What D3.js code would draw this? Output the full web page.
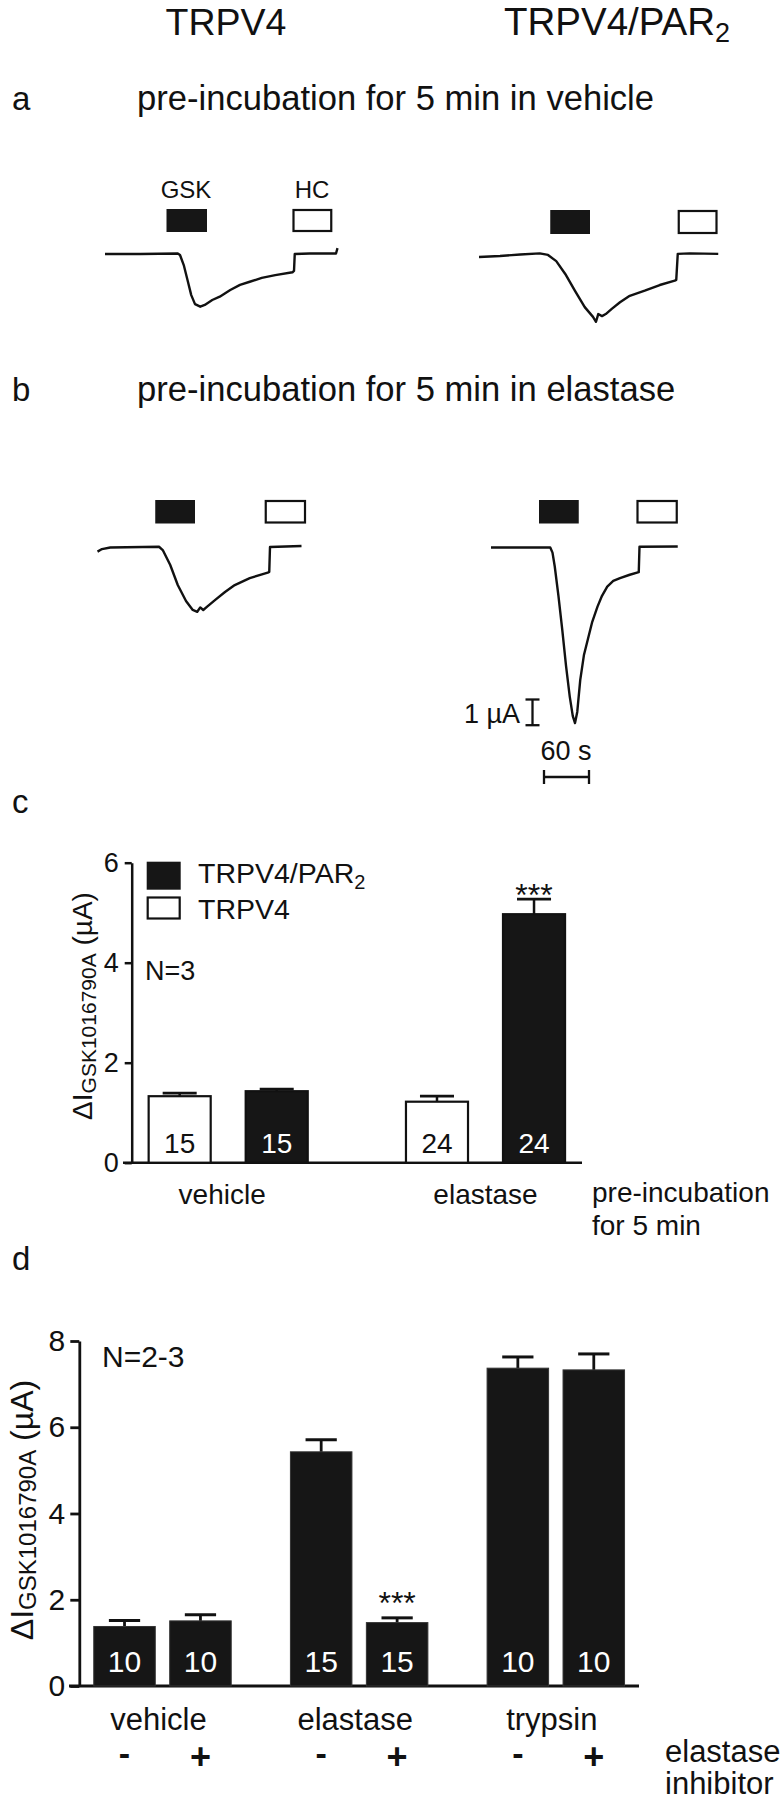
<!DOCTYPE html>
<html><head><meta charset="utf-8">
<script src="https://cdn.jsdelivr.net/npm/d3@7"></script>
<style>
body{margin:0;background:#fff;}
svg{display:block;font-family:"Liberation Sans",Arial,Helvetica,sans-serif;}
</style></head><body>
<svg id="fig" width="783" height="1800"></svg>
<script>
// ---------- DATA ----------
// Current traces: [time (s), current (µA)]
const traceA_TRPV4 = [[0,0],[47,0],[97,0.02],[100,-0.04],[105,-0.43],[110,-1.01],[115,-1.6],[120,-1.95],[127,-2.05],[133,-1.98],[143,-1.79],[153,-1.66],[167,-1.4],[180,-1.2],[193,-1.08],[209,-0.93],[227,-0.82],[250,-0.71],[252,-0.66],[253,0],[273,0.02],[308,0.02],[310,0.23]];
const traceA_PAR2 = [[0,0],[28,0.04],[55,0.1],[81,0.14],[92,0.08],[103,-0.16],[115,-0.66],[128,-1.32],[141,-1.95],[152,-2.33],[156,-2.52],[159,-2.22],[164,-2.3],[169,-2.22],[177,-2.02],[188,-1.76],[201,-1.51],[221,-1.31],[241,-1.09],[261,-0.92],[263,-0.89],[265,0.12],[281,0.14],[319,0.12]];
const traceB_TRPV4 = [[0,-0.18],[6,-0.08],[17,-0.02],[82,0.01],[87,-0.12],[97,-0.7],[107,-1.48],[118,-2.1],[127,-2.45],[133,-2.52],[137,-2.35],[141,-2.45],[147,-2.3],[157,-2.06],[170,-1.75],[183,-1.48],[203,-1.21],[227,-1.0],[229,-0.97],[230,0],[272,0.04]];
const traceB_PAR2 = [[0,0],[79,0],[82,-0.2],[85,-0.74],[90,-1.9],[95,-3.2],[100,-4.6],[105,-5.8],[109,-6.55],[112,-6.83],[115,-6.4],[119,-5.15],[124,-4.17],[129,-3.59],[135,-2.89],[142,-2.3],[148,-1.88],[155,-1.52],[163,-1.3],[172,-1.19],[185,-1.06],[197,-0.96],[198,0.03],[249,0.04]];
// Application periods [start, end] (s)
const gskA_TRPV4 = [82,136], hcA_TRPV4 = [250,303];
const gskA_PAR2 = [95,148], hcA_PAR2 = [265,318];
const gskB_TRPV4 = [77,130], hcB_TRPV4 = [223,278];
const gskB_PAR2 = [64,117], hcB_PAR2 = [194,249];
const scaleBarCurrent = 1;   // µA
const scaleBarTime = 60;     // s

// Panel c
const cGroups = ["vehicle","elastase"];
const cSeries = ["TRPV4","TRPV4/PAR2"];
const cTRPV4Mean = [1.33, 1.22];
const cTRPV4SEM = [0.06, 0.11];
const cPAR2Mean = [1.43, 4.97];
const cPAR2SEM = [0.04, 0.30];
const cN = [15, 24];
const cTicks = [0,2,4,6];

// Panel d
const dGroups = ["vehicle","elastase","trypsin"];
const dInhibitor = ["-","+"];
const dMeanNoInh = [1.38, 5.43, 7.37];
const dSEMNoInh = [0.14, 0.28, 0.26];
const dMeanInh = [1.51, 1.47, 7.33];
const dSEMInh = [0.14, 0.11, 0.37];
const dN = [10, 15, 10];
const dTicks = [0,2,4,6,8];

// ---------- DRAW ----------
const svg = d3.select("#fig");
const INK = "#161616";
function txt(x, y, s, size, opts = {}) {
  const t = svg.append("text").attr("x", x).attr("y", y)
    .attr("font-size", size).attr("fill", opts.fill || "#111")
    .attr("text-anchor", opts.anchor || "start");
  if (opts.weight) t.attr("font-weight", opts.weight);
  t.text(s);
  return t;
}

// Titles
txt(226, 35, "TRPV4", 37.5, {anchor:"middle"});
const t2 = txt(504, 35, "TRPV4/PAR", 38.5);
t2.append("tspan").attr("dy", 7).attr("font-size", 27).text("2");

txt(12, 110, "a", 33);
txt(137, 110, "pre-incubation for 5 min in vehicle", 34.6);
txt(12, 401, "b", 33);
txt(137, 401, "pre-incubation for 5 min in elastase", 34.6);
txt(186, 198, "GSK", 24, {anchor:"middle"});
txt(312, 198, "HC", 24, {anchor:"middle"});

// Traces
const pxPerSec = 45/60, pxPerUA = 25.7;
function drawTrace(data, x0, y0, gsk, hc, rectTop, rectH) {
  const x = d3.scaleLinear().domain([0, 60]).range([x0, x0 + 60*pxPerSec]);
  const y = d3.scaleLinear().domain([0, 1]).range([y0, y0 - pxPerUA]);
  svg.append("path").datum(data)
    .attr("d", d3.line().x(d => x(d[0])).y(d => y(d[1])))
    .attr("fill","none").attr("stroke","#111").attr("stroke-width",2.4)
    .attr("stroke-linejoin","round");
  svg.append("rect").attr("x", x(gsk[0])).attr("width", x(gsk[1]) - x(gsk[0]))
    .attr("y", rectTop).attr("height", rectH).attr("fill", INK);
  svg.append("rect").attr("x", x(hc[0]) + 1).attr("width", x(hc[1]) - x(hc[0]) - 2)
    .attr("y", rectTop + 1).attr("height", rectH - 2).attr("fill", "#fff")
    .attr("stroke","#111").attr("stroke-width",2.2);
  return {x, y};
}
drawTrace(traceA_TRPV4, 105, 254, gskA_TRPV4, hcA_TRPV4, 209, 23);
drawTrace(traceA_PAR2, 479, 257, gskA_PAR2, hcA_PAR2, 210, 24);
drawTrace(traceB_TRPV4, 97.5, 547, gskB_TRPV4, hcB_TRPV4, 500, 23.5);
const bp = drawTrace(traceB_PAR2, 491, 547.5, gskB_PAR2, hcB_PAR2, 500, 23.5);

// scale bars
{
  const vLen = bp.y(0) - bp.y(scaleBarCurrent);
  const hLen = bp.x(scaleBarTime) - bp.x(0);
  const vx = 532.5, vy = 699.5;
  const g = svg.append("g").attr("stroke","#111").attr("stroke-width",2.3);
  g.append("line").attr("x1",vx).attr("x2",vx).attr("y1",vy).attr("y2",vy+vLen);
  g.append("line").attr("x1",vx-7).attr("x2",vx+7).attr("y1",vy).attr("y2",vy);
  g.append("line").attr("x1",vx-7).attr("x2",vx+7).attr("y1",vy+vLen).attr("y2",vy+vLen);
  const hx = 544, hy = 777;
  g.append("line").attr("x1",hx).attr("x2",hx+hLen).attr("y1",hy).attr("y2",hy);
  g.append("line").attr("x1",hx).attr("x2",hx).attr("y1",hy-7).attr("y2",hy+7);
  g.append("line").attr("x1",hx+hLen).attr("x2",hx+hLen).attr("y1",hy-7).attr("y2",hy+7);
  txt(520, 723, scaleBarCurrent + " \u00B5A", 27, {anchor:"end"});
  txt(566, 760, scaleBarTime + " s", 27, {anchor:"middle"});
}

// ---------- Panel c ----------
txt(12, 813, "c", 33);
{
  const y = d3.scaleLinear().domain([0, 6]).range([1162.7, 862.7]);
  const xg = d3.scaleBand().domain(cGroups).range([131.7, 582]).paddingInner(0.374).paddingOuter(0.062);
  const xs = d3.scaleBand().domain(cSeries).range([0, xg.bandwidth()]).paddingInner(0.34);
  const ax = svg.append("g").attr("transform","translate(131.7,0)")
    .call(d3.axisLeft(y).tickValues(cTicks).tickSize(7).tickSizeOuter(0).tickPadding(6).tickFormat(d3.format("d")));
  ax.select(".domain").attr("stroke","#111").attr("stroke-width",2.5);
  ax.selectAll(".tick line").attr("stroke","#111").attr("stroke-width",2.5);
  ax.selectAll(".tick text").attr("font-size",27).attr("fill","#111").attr("font-family",null);
  svg.append("line").attr("x1",123).attr("x2",xg.range()[1]).attr("y1",y(0)).attr("y2",y(0))
    .attr("stroke","#111").attr("stroke-width",2.5);
  const series = [
    {name:"TRPV4", mean:cTRPV4Mean, sem:cTRPV4SEM, fill:"#fff", label:"#111"},
    {name:"TRPV4/PAR2", mean:cPAR2Mean, sem:cPAR2SEM, fill:INK, label:"#fff"}
  ];
  series.forEach(s => {
    cGroups.forEach((g, i) => {
      const bx = xg(g) + xs(s.name), bw = xs.bandwidth(), cx = bx + bw/2;
      const top = y(s.mean[i]), et = y(s.mean[i] + s.sem[i]);
      svg.append("line").attr("x1",cx).attr("x2",cx).attr("y1",top).attr("y2",et).attr("stroke","#111").attr("stroke-width",2.5);
      svg.append("line").attr("x1",cx-bw/4-1).attr("x2",cx+bw/4+1).attr("y1",et).attr("y2",et).attr("stroke","#111").attr("stroke-width",2.8);
      svg.append("rect").attr("x",bx+1).attr("y",top).attr("width",bw-2).attr("height",y(0)-top)
        .attr("fill",s.fill).attr("stroke","#111").attr("stroke-width",2.2);
      txt(cx, 1152.5, String(cN[i]), 28, {anchor:"middle", fill:s.label});
    });
  });
  {
    const cx = xg("elastase") + xs("TRPV4/PAR2") + xs.bandwidth()/2;
    txt(cx, y(cPAR2Mean[1] + cPAR2SEM[1]) + 7, "***", 32, {anchor:"middle"});
  }
  cGroups.forEach(g => {
    const cx = xg(g) + xg.bandwidth()/2 - (g === "vehicle" ? 6 : 0);
    txt(cx, 1203.5, g, 28, {anchor:"middle"});
  });
  txt(592, 1202, "pre-incubation", 28);
  txt(592, 1235, "for 5 min", 28);
  // legend
  svg.append("rect").attr("x",146.7).attr("y",861.7).attr("width",34).attr("height",28).attr("fill",INK);
  svg.append("rect").attr("x",147.7).attr("y",897.5).attr("width",32).attr("height",21).attr("fill","#fff").attr("stroke","#111").attr("stroke-width",2.2);
  const lt = txt(198, 883, "TRPV4/PAR", 28.5);
  lt.append("tspan").attr("dy",6).attr("font-size",20).text("2");
  txt(198, 919, "TRPV4", 28.5);
  txt(145, 980, "N=3", 27);
  const yl = svg.append("text").attr("transform","translate(92,1006) rotate(-90)")
    .attr("text-anchor","middle").attr("font-size",28).attr("fill","#111");
  yl.append("tspan").text("\u0394I");
  yl.append("tspan").attr("font-size",21).attr("dy",4).text("GSK1016790A");
  yl.append("tspan").attr("dy",-4).text(" (\u00B5A)");
}

// ---------- Panel d ----------
txt(12, 1270, "d", 33);
{
  const y = d3.scaleLinear().domain([0, 8]).range([1686, 1341]);
  const xg = d3.scaleBand().domain(dGroups).range([79.3, 639]).paddingInner(0.296).paddingOuter(0.071);
  const xs = d3.scaleBand().domain(dInhibitor).range([0, xg.bandwidth()]).paddingInner(0.177);
  const ax = svg.append("g").attr("transform","translate(79.3,0)")
    .call(d3.axisLeft(y).tickValues(dTicks).tickSize(9).tickSizeOuter(0).tickPadding(5).tickFormat(d3.format("d")));
  ax.select(".domain").attr("stroke","#111").attr("stroke-width",2.8);
  ax.selectAll(".tick line").attr("stroke","#111").attr("stroke-width",2.8);
  ax.selectAll(".tick text").attr("font-size",30).attr("fill","#111").attr("font-family",null);
  svg.append("line").attr("x1",69).attr("x2",xg.range()[1]).attr("y1",y(0)).attr("y2",y(0))
    .attr("stroke","#111").attr("stroke-width",3);
  const series = [
    {name:"-", mean:dMeanNoInh, sem:dSEMNoInh},
    {name:"+", mean:dMeanInh, sem:dSEMInh}
  ];
  series.forEach(s => {
    dGroups.forEach((g, i) => {
      const bx = xg(g) + xs(s.name), bw = xs.bandwidth(), cx = bx + bw/2;
      const top = y(s.mean[i]), et = y(s.mean[i] + s.sem[i]);
      svg.append("line").attr("x1",cx).attr("x2",cx).attr("y1",top).attr("y2",et).attr("stroke","#111").attr("stroke-width",2.8);
      svg.append("line").attr("x1",cx-bw/4).attr("x2",cx+bw/4).attr("y1",et).attr("y2",et).attr("stroke","#111").attr("stroke-width",3);
      svg.append("rect").attr("x",bx+0.5).attr("y",top).attr("width",bw-1).attr("height",y(0)-top)
        .attr("fill",INK).attr("stroke","#333").attr("stroke-width",1);
      txt(cx, 1672, String(dN[i]), 30, {anchor:"middle", fill:"#fff"});
      txt(cx, s.name === "-" ? 1765 : 1769, s.name, s.name === "-" ? 34 : 36, {anchor:"middle", weight:"bold"});
    });
  });
  {
    const cx = xg("elastase") + xs("+") + xs.bandwidth()/2;
    txt(cx, y(dMeanInh[1] + dSEMInh[1]) - 4, "***", 32, {anchor:"middle"});
  }
  dGroups.forEach(g => {
    txt(xg(g) + xg.bandwidth()/2 - 4, 1730, g, 31, {anchor:"middle"});
  });
  txt(665, 1762, "elastase", 31);
  txt(665, 1794, "inhibitor", 31);
  txt(102, 1367, "N=2-3", 30);
  const yl = svg.append("text").attr("transform","translate(33,1510) rotate(-90)")
    .attr("text-anchor","middle").attr("font-size",32).attr("fill","#111");
  yl.append("tspan").text("\u0394I");
  yl.append("tspan").attr("font-size",24).attr("dy",3).text("GSK1016790A");
  yl.append("tspan").attr("dy",-3).text(" (\u00B5A)");
}
</script></body></html>
